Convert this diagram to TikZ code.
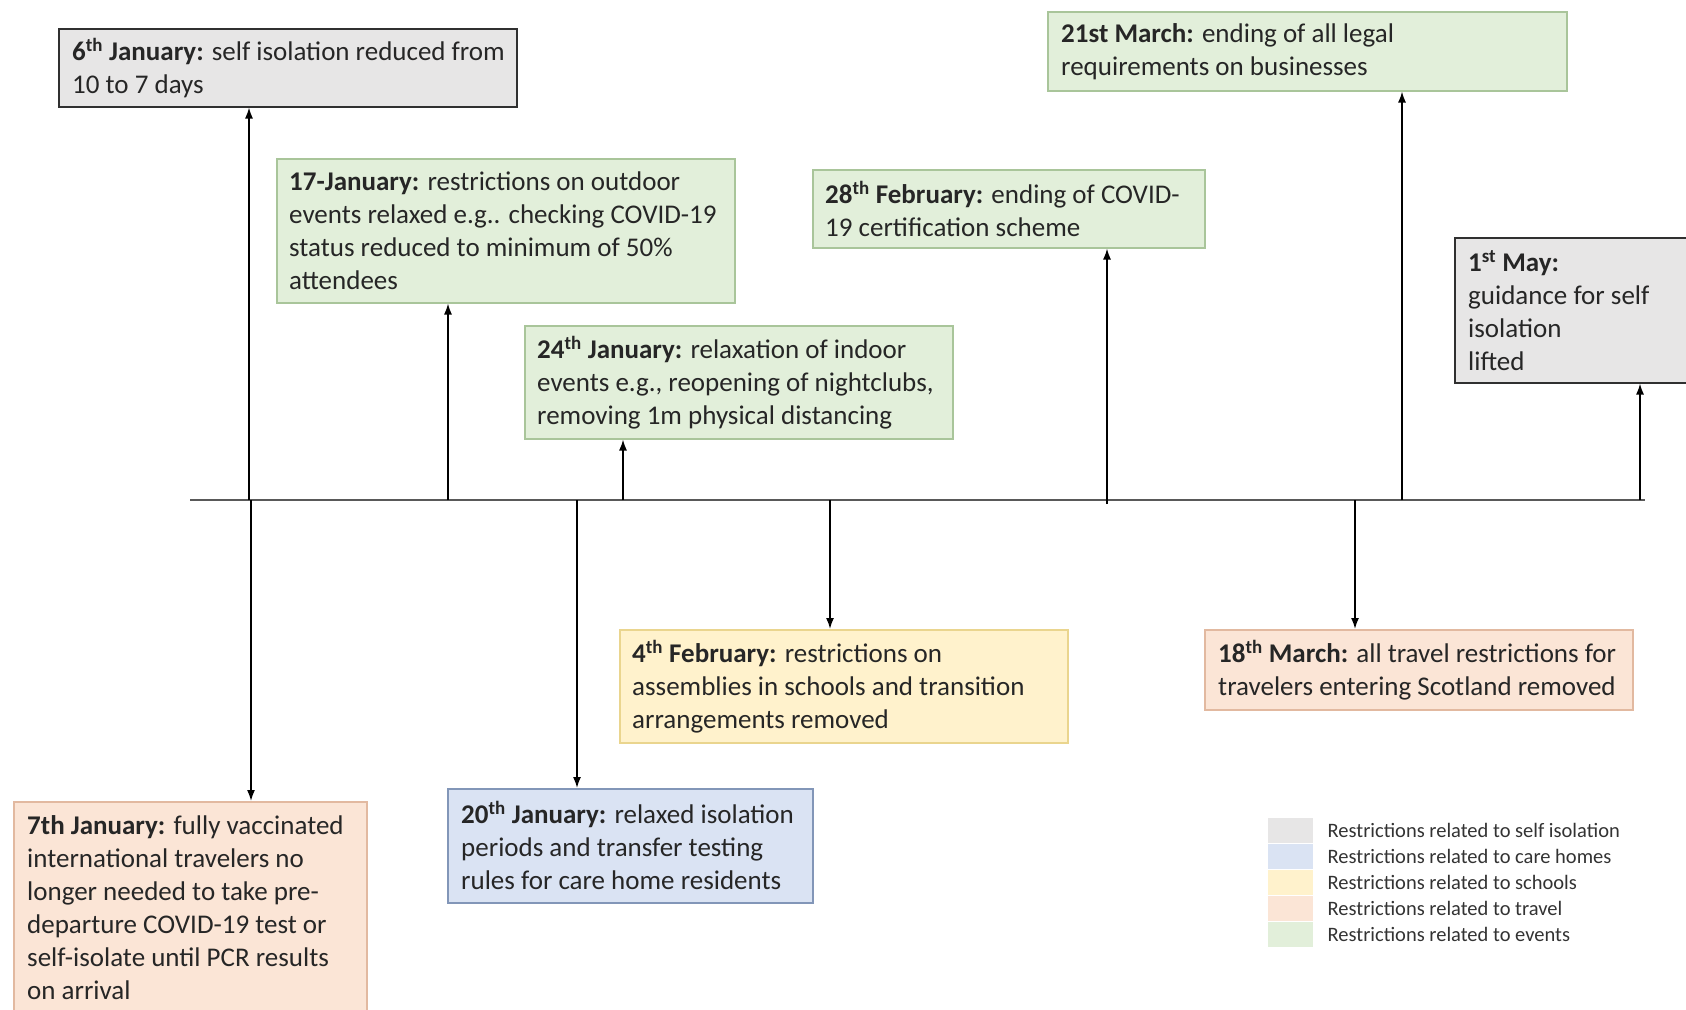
\documentclass[tikz,border=0pt]{standalone}
\usepackage{fontspec}
\setmainfont{Carlito}
\usetikzlibrary{arrows.meta}
\definecolor{isoF}{HTML}{E7E6E6}
\definecolor{isoD}{HTML}{303030}
\definecolor{evF}{HTML}{E2EFDA}
\definecolor{evD}{HTML}{A9C59A}
\definecolor{trF}{HTML}{FBE5D6}
\definecolor{trD}{HTML}{E2B9A0}
\definecolor{scF}{HTML}{FFF2CC}
\definecolor{scD}{HTML}{EAD58E}
\definecolor{caF}{HTML}{DAE3F3}
\definecolor{caD}{HTML}{8296B8}
\definecolor{txtC}{HTML}{262626}
\tikzset{
  evbox/.style={rectangle, line width=1.5pt, inner sep=0pt, anchor=north west},
  isobox/.style={evbox, fill=isoF, draw=isoD},
  eventbox/.style={evbox, fill=evF, draw=evD},
  travbox/.style={evbox, fill=trF, draw=trD},
  schbox/.style={evbox, fill=scF, draw=scD},
  carebox/.style={evbox, fill=caF, draw=caD},
  txt/.style={font=\fontsize{27}{33}\selectfont, align=left, inner sep=0pt, anchor=west, text=txtC},
  arr/.style={line width=1.6pt, black, -{Latex[length=11pt,width=8pt]}},
  timeline/.style={line width=2pt, black!65},
  swatch/.style={rectangle, inner sep=0pt, anchor=north west, minimum width=45pt, minimum height=25pt},
  legtxt/.style={font=\fontsize{20.5}{26}\selectfont, inner sep=0pt, anchor=west, text=black!80}
}
\begin{document}
\begin{tikzpicture}[x=1pt,y=-1pt]
\path[use as bounding box, fill=white] (0,0) rectangle (1686,1009);

% boxes above the timeline
\node[isobox, minimum width=458pt, minimum height=78pt] (b6jan) at (58,28) {};
\node[txt] (t6jan) at ([xshift=14pt]b6jan.west) {\textbf{6\textsuperscript{th} January:} self isolation reduced from\\10 to 7 days};

\node[eventbox, minimum width=458pt, minimum height=144pt] (b17jan) at (276,158) {};
\node[txt] (t17jan) at ([xshift=13pt]b17jan.west) {\textbf{17-January:} restrictions on outdoor\\events relaxed e.g.. checking COVID-19\\status reduced to minimum of 50\%\\attendees};

\node[eventbox, minimum width=428pt, minimum height=113pt] (b24jan) at (524,325) {};
\node[txt] (t24jan) at ([xshift=13pt]b24jan.west) {\textbf{24\textsuperscript{th} January:} relaxation of indoor\\events e.g., reopening of nightclubs,\\removing 1m physical distancing};

\node[eventbox, minimum width=392pt, minimum height=78pt] (b28feb) at (812,169) {};
\node[txt] (t28feb) at ([xshift=13pt]b28feb.west) {\textbf{28\textsuperscript{th} February:} ending of COVID-\\19 certification scheme};

\node[eventbox, minimum width=519pt, minimum height=79pt] (b21mar) at (1047,11) {};
\node[txt] (t21mar) at ([xshift=14pt]b21mar.west) {\textbf{21st March:} ending of all legal\\requirements on businesses};

\node[isobox, minimum width=260pt, minimum height=145pt] (b1may) at (1454,237) {};
\node[txt] (t1may) at ([xshift=14pt]b1may.west) {\textbf{1\textsuperscript{st} May:}\\guidance for self\\isolation\\lifted};

% boxes below the timeline
\node[travbox, minimum width=353pt, minimum height=212pt] (b7jan) at (13,801) {};
\node[txt] (t7jan) at ([xshift=14pt]b7jan.west) {\textbf{7th January:} fully vaccinated\\international travelers no\\longer needed to take pre-\\departure COVID-19 test or\\self-isolate until PCR results\\on arrival};

\node[carebox, minimum width=365pt, minimum height=114pt] (b20jan) at (447,788) {};
\node[txt] (t20jan) at ([xshift=14pt]b20jan.west) {\textbf{20\textsuperscript{th} January:} relaxed isolation\\periods and transfer testing\\rules for care home residents};

\node[schbox, minimum width=448pt, minimum height=113pt] (b4feb) at (619,629) {};
\node[txt] (t4feb) at ([xshift=13pt]b4feb.west) {\textbf{4\textsuperscript{th} February:} restrictions on\\assemblies in schools and transition\\arrangements removed};

\node[travbox, minimum width=428pt, minimum height=80pt] (b18mar) at (1204,629) {};
\node[txt] (t18mar) at ([xshift=14pt]b18mar.west) {\textbf{18\textsuperscript{th} March:} all travel restrictions for\\travelers entering Scotland removed};

% timeline
\coordinate (tl) at (190,500);
\coordinate (tr) at (1645,500);
\draw[timeline] (tl) -- (tr);

% up arrows
\coordinate (u1) at (249,500);
\coordinate (u2) at (448,500);
\coordinate (u3) at (623,500);
\coordinate (u4) at (1107,504);
\coordinate (u5) at (1402,500);
\coordinate (u6) at (1640,500);
\draw[arr] (u1) -- (u1 |- b6jan.south);
\draw[arr] (u2) -- (u2 |- b17jan.south);
\draw[arr] (u3) -- (u3 |- b24jan.south);
\draw[arr] (u4) -- (u4 |- b28feb.south);
\draw[arr] (u5) -- (u5 |- b21mar.south);
\draw[arr] (u6) -- (u6 |- b1may.south);

% down arrows
\coordinate (d1) at (251,500);
\coordinate (d2) at (577,500);
\coordinate (d3) at (830,500);
\coordinate (d4) at (1355,500);
\draw[arr] (d1) -- (d1 |- b7jan.north);
\draw[arr] (d2) -- (d2 |- b20jan.north);
\draw[arr] (d3) -- (d3 |- b4feb.north);
\draw[arr] (d4) -- (d4 |- b18mar.north);

% legend
\node[swatch, fill=isoF] (s1) at (1268,818) {};
\node[swatch, fill=caF] (s2) at (1268,844) {};
\node[swatch, fill=scF] (s3) at (1268,870) {};
\node[swatch, fill=trF] (s4) at (1268,896) {};
\node[swatch, fill=evF] (s5) at (1268,922) {};
\node[legtxt] (l1) at ([xshift=14pt]s1.east) {Restrictions related to self isolation};
\node[legtxt] (l2) at ([xshift=14pt]s2.east) {Restrictions related to care homes};
\node[legtxt] (l3) at ([xshift=14pt]s3.east) {Restrictions related to schools};
\node[legtxt] (l4) at ([xshift=14pt]s4.east) {Restrictions related to travel};
\node[legtxt] (l5) at ([xshift=14pt]s5.east) {Restrictions related to events};
\end{tikzpicture}
\end{document}
